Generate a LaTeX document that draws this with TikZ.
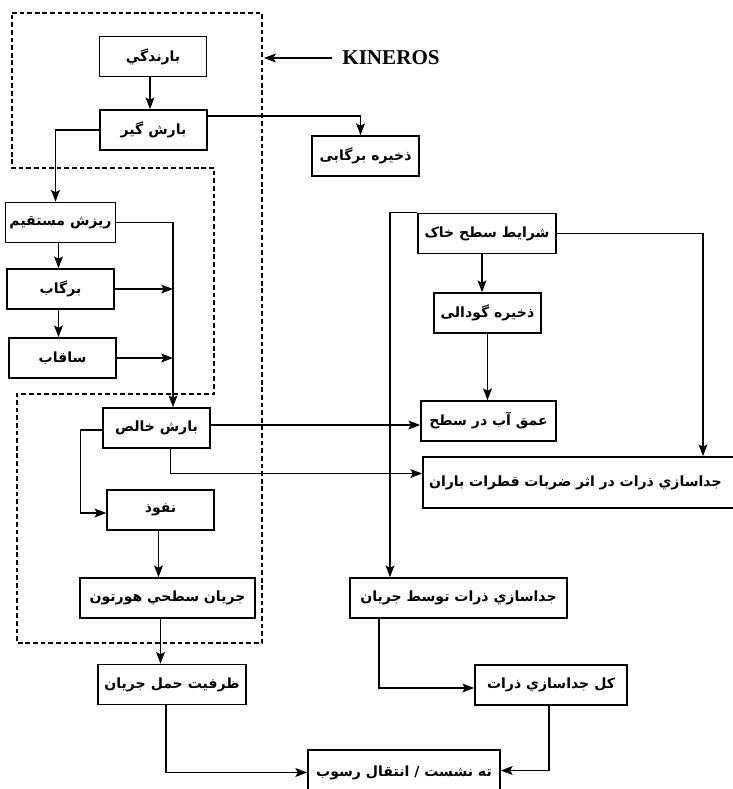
\documentclass[tikz,border=0pt]{standalone}
\usepackage{fontspec}
\setmainfont{Liberation Serif}
\newfontfamily\farsi[Script=Arabic]{DejaVu Sans}
\TeXXeTstate=1
\usetikzlibrary{calc, arrows.meta, positioning}

\newcommand{\fa}[1]{{\farsi\bfseries\beginR #1\endR}}

\begin{document}
\begin{tikzpicture} [x=0.03cm, y=-0.03cm,
		% define styles
		procbox/.style={
			% The shape:
			rectangle,
			% The size:
			minimum width=3.2cm,
			minimum height=1.2cm,
			% The border:
			draw=black,
			line width=1.4pt,
			% Font
			font=\fontsize{12}{14}\selectfont
		},
		arrow/.style={
			->,
			% Thickness
			line width=1.2pt,
			>={Stealth[length=10pt, width=7.5pt, inset=2pt]},
			% Color
			black
		},
		modelborder/.style={
			line width=1pt,
			dash pattern=on 4pt off 2.5pt
		}]
		% end of style definition

		\useasboundingbox (0,0) rectangle (733,789);

		% draw nodes (left column)
		\node (iRain) [procbox] at (153,56.5) {\fa{بارندگي}};
		\node (iIntercept) [procbox] at (153.5,130) {\fa{بارش گير}};
		\node (iLeafStore) [procbox] at (365.5,156) {\fa{ذخيره برگابی}};
		\node (iDirect) [procbox] at (60.5,222.5) {\fa{ريزش مستقيم}};
		\node (iLeafDrip) [procbox] at (60.5,289) {\fa{برگاب}};
		\node (iStemFlow) [procbox] at (62.5,358) {\fa{ساقاب}};
		\node (iNetRain) [procbox] at (156.5,428) {\fa{بارش خالص}};
		\node (iInfilt) [procbox] at (160.5,510) {\fa{نفوذ}};
		\node (iHorton) [procbox, minimum width=5.25cm] at (167.5,598) {\fa{جريان سطحي هورتون}};
		\node (iCapacity) [procbox, minimum width=4.44cm] at (172,684.5) {\fa{ظرفيت حمل جريان}};

		% draw nodes (right column)
		\node (iSoil) [procbox, minimum width=4.14cm] at (487,233.5) {\fa{شرايط سطح خاک}};
		\node (iPond) [procbox] at (487.5,313) {\fa{ذخيره گودالی}};
		\node (iDepth) [procbox, minimum width=4.05cm] at (488.5,421) {\fa{عمق آب در سطح}};
		\node (iSplash) [procbox, minimum width=9.36cm, minimum height=1.53cm,
			text width=9cm, align=left] at (579,482.5) {\fa{جداسازي ذرات در اثر ضربات قطرات باران}};
		\node (iFlowDet) [procbox, minimum width=6.51cm] at (458.5,598) {\fa{جداسازي ذرات توسط جريان}};
		\node (iTotalDet) [procbox, minimum width=4.56cm] at (551,685) {\fa{کل جداسازي ذرات}};
		\node (iSediment) [procbox, minimum width=5.76cm, minimum height=1.35cm] at (404,772.5) {\fa{ته نشست / انتقال رسوب}};

		\node (iKineros) [font=\bfseries\fontsize{18}{20}\selectfont] at (391,58) {KINEROS};

		% helper coordinates
		\coordinate (iModelEdge) at (264,59);
		\coordinate (iDrop) at (173,400);
		\coordinate (iLeftCol) at (390,0);
		\coordinate (iRightCol) at (703,0);

		% model boundary
		\draw [modelborder] (12,13) -- (262,13) -- (262,643) -- (17,643) -- (17,394)
			-- (214,394) -- (214,168) -- (12,168) -- cycle;

		% connect nodes
		\draw [arrow] ($(iKineros.west)+(-6,0)$) -- (iKineros.west -| iModelEdge);
		\draw [arrow] ($(iRain.south)+(-3,0)$) -- ($(iIntercept.north)+(-3.5,0)$);
		\draw [arrow] (iIntercept.west) -| ($(iDirect.north)+(-5,0)$);
		\draw [arrow] ($(iIntercept.east)+(0,-14)$) -| ($(iLeafStore.north)+(-5,0)$);
		\draw [arrow] ($(iDirect.south)+(-2,0)$) -- ($(iLeafDrip.north)+(-2,0)$);
		\draw [arrow] ($(iLeafDrip.south)+(-2,0)$) -- ($(iStemFlow.north)+(-4,0)$);
		\draw [arrow] (iDirect.east) -| (iDrop |- iNetRain.north);
		\draw [arrow] (iLeafDrip.east) -- (iLeafDrip.east -| iDrop);
		\draw [arrow] (iStemFlow.east) -- (iStemFlow.east -| iDrop);
		\draw [arrow] ($(iNetRain.west)+(0,2)$) -- ++(-22,0) |- ($(iInfilt.west)+(0,3)$);
		\draw [arrow] ($(iNetRain.east)+(0,-3)$) -- ($(iNetRain.east -| iDepth.west)+(0,-3)$);
		\draw [arrow] ($(iNetRain.south)+(14,0)$) |- ($(iSplash.west)+(0,-9)$);
		\draw [arrow] ($(iInfilt.south)+(-2,0)$) -- ($(iHorton.north)+(-9,0)$);
		\draw [arrow] ($(iHorton.south)+(-7,0)$) -- ($(iCapacity.north)+(-11.5,0)$);
		\draw [arrow] ($(iCapacity.south)+(-6,0)$) |- (iSediment.west);
		\draw [arrow] ($(iSoil.south)+(-5,0)$) -- ($(iPond.north)+(-5.5,0)$);
		\draw [arrow] (iPond.south) -- (iPond.south |- iDepth.north);
		\draw [arrow] (iSoil.east) -| (iRightCol |- iSplash.north);
		\draw [arrow] (iSoil.north west) -- (iSoil.north west -| iLeftCol) -- (iLeftCol |- iFlowDet.north);
		\draw [arrow] ($(iFlowDet.south)+(-79.5,0)$) |- ($(iTotalDet.west)+(0,3)$);
		\draw [arrow] ($(iTotalDet.south)+(-2,0)$) |- ($(iSediment.east)+(0,-2)$);
	\end{tikzpicture}
\end{document}
